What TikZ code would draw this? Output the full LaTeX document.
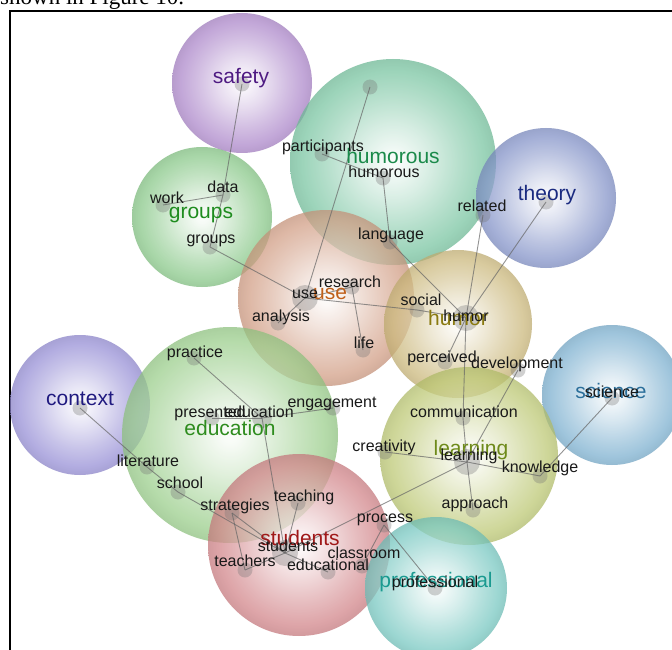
\documentclass[tikz,border=0pt]{standalone}
\usepackage{fontspec}
\setmainfont{Liberation Sans}
\newfontfamily\capfont{Liberation Serif}
\colorlet{ballcol}{gray}
\pgfdeclareradialshading[ballcol]{ballshade}{\pgfpoint{0bp}{0bp}}{color(0bp)=(ballcol!5!white); color(2bp)=(ballcol!9!white); color(9bp)=(ballcol!38!white); color(16bp)=(ballcol!70!white); color(22bp)=(ballcol!95!white); color(25bp)=(ballcol!94!black); color(50bp)=(ballcol!94!black)}
\definecolor{safetyC}{HTML}{A982C8}
\definecolor{humorousC}{HTML}{74C39E}
\definecolor{groupsC}{HTML}{84C684}
\definecolor{theoryC}{HTML}{7E8EC6}
\definecolor{useC}{HTML}{D09A80}
\definecolor{humorC}{HTML}{C9B576}
\definecolor{scienceC}{HTML}{77ADCE}
\definecolor{learningC}{HTML}{BAC66E}
\definecolor{contextC}{HTML}{928AD4}
\definecolor{educationC}{HTML}{96CC86}
\definecolor{studentsC}{HTML}{D07F84}
\definecolor{professionalC}{HTML}{72C6BF}
\definecolor{safetyT}{HTML}{4E1A82}
\definecolor{humorousT}{HTML}{1A8A4A}
\definecolor{groupsT}{HTML}{1E8C1E}
\definecolor{theoryT}{HTML}{1A2A80}
\definecolor{useT}{HTML}{C0601A}
\definecolor{humorT}{HTML}{8A7A10}
\definecolor{scienceT}{HTML}{2A6E9A}
\definecolor{learningT}{HTML}{6E8A1A}
\definecolor{contextT}{HTML}{201A80}
\definecolor{educationT}{HTML}{2E8C1E}
\definecolor{studentsT}{HTML}{A01818}
\definecolor{professionalT}{HTML}{1A9A90}
\tikzset{
  clusterball/.style={circle, inner sep=0pt, draw=none, shade, shading=ballshade, fill opacity=0.74},
  dot/.style={circle, inner sep=0pt, minimum size=15pt, fill=black!55, fill opacity=0.33, draw=none},
  hubdot/.style={dot, minimum size=26pt},
  link/.style={draw=black!60, line width=0.9pt, draw opacity=0.7},
  word/.style={anchor=base, yshift=-5pt, font=\fontsize{16}{16}\selectfont, text=black!90, inner sep=0pt},
  topic/.style={anchor=base, yshift=-7pt, font=\fontsize{21}{21}\selectfont, inner sep=0pt},
}
\newcommand\ClusterBall[4]{\begin{scope}\colorlet{ballcol}{#2}\node[clusterball, minimum size=#4] (#1) at (#3) {};\end{scope}}
\begin{document}
\begin{tikzpicture}[x=1pt,y=-1pt]
\useasboundingbox (0,0) rectangle (672,650);
\clip (0,0) rectangle (672,650);
\fill[white] (0,0) rectangle (672,650);
% caption fragment and frame
\node[anchor=base west, font=\capfont\fontsize{23}{23}\selectfont, inner sep=0pt] (caption) at (0,5) {shown in Figure 10.};
\draw[line width=2pt] (9.5,660) -- (9.5,11.5) -- (680,11.5);
% clusters
\ClusterBall{c-safety}{safetyC}{242,83}{140pt}
\ClusterBall{c-humorous}{humorousC}{393,162}{206pt}
\ClusterBall{c-groups}{groupsC}{202,217}{140pt}
\ClusterBall{c-theory}{theoryC}{546,198}{140pt}
\ClusterBall{c-use}{useC}{326,298}{176pt}
\ClusterBall{c-humor}{humorC}{458,324}{148pt}
\ClusterBall{c-science}{scienceC}{612,395}{140pt}
\ClusterBall{c-learning}{learningC}{469,456}{178pt}
\ClusterBall{c-context}{contextC}{80,405}{140pt}
\ClusterBall{c-education}{educationC}{230,435}{216pt}
\ClusterBall{c-students}{studentsC}{299,545}{182pt}
\ClusterBall{c-professional}{professionalC}{436,588}{142pt}
% keyword dots
\node[dot] (d-safety) at (242,84) {};
\node[dot] (d-humtop) at (370,87) {};
\node[dot] (d-participants) at (322,154) {};
\node[dot] (d-humorous) at (383,178) {};
\node[dot] (d-work) at (163,205) {};
\node[dot] (d-data) at (223,195) {};
\node[dot] (d-groups) at (210,247) {};
\node[dot] (d-theory) at (546,202) {};
\node[dot] (d-related) at (483,215) {};
\node[dot] (d-language) at (390,242) {};
\node[hubdot] (d-use) at (305,298) {};
\node[dot] (d-research) at (352,287) {};
\node[dot] (d-analysis) at (278,323) {};
\node[dot] (d-life) at (363,350) {};
\node[dot] (d-social) at (417,310) {};
\node[hubdot] (d-humor) at (466,318) {};
\node[dot] (d-perceived) at (445,362) {};
\node[dot] (d-development) at (518,370) {};
\node[dot] (d-communication) at (463,418) {};
\node[hubdot] (d-learning) at (467,462) {};
\node[dot] (d-creativity) at (385,452) {};
\node[dot] (d-knowledge) at (540,476) {};
\node[dot] (d-approach) at (473,510) {};
\node[dot] (d-science) at (612,398) {};
\node[dot] (d-context) at (80,408) {};
\node[dot] (d-practice) at (194,358) {};
\node[dot] (d-presented) at (212,418) {};
\node[dot, minimum size=20pt] (d-education) at (262,418) {};
\node[dot] (d-engagement) at (333,408) {};
\node[dot] (d-literature) at (147,467) {};
\node[dot] (d-school) at (178,492) {};
\node[dot] (d-strategies) at (232,513) {};
\node[dot] (d-teaching) at (298,503) {};
\node[hubdot] (d-students) at (285,553) {};
\node[dot] (d-teachers) at (245,570) {};
\node[dot] (d-educational) at (328,572) {};
\node[dot] (d-classroom) at (362,566) {};
\node[dot] (d-process) at (384,525) {};
\node[dot] (d-professional) at (435,588) {};
% links
\draw[link] (d-safety.center) -- (d-data.center);
\draw[link] (d-work.center) -- (d-data.center);
\draw[link] (d-data.center) -- (d-groups.center);
\draw[link] (d-groups.center) -- (d-use.center);
\draw[link] (d-humtop.center) -- (d-use.center);
\draw[link] (d-participants.center) -- (d-humorous.center);
\draw[link] (d-humorous.center) -- (d-language.center);
\draw[link] (d-language.center) -- (d-humor.center);
\draw[link] (d-related.center) -- (d-humor.center);
\draw[link] (d-theory.center) -- (d-humor.center);
\draw[link] (d-use.center) -- (d-research.center);
\draw[link] (d-use.center) -- (d-analysis.center);
\draw[link] (d-research.center) -- (d-life.center);
\draw[link] (d-use.center) -- (d-social.center);
\draw[link] (d-social.center) -- (d-humor.center);
\draw[link] (d-humor.center) -- (d-perceived.center);
\draw[link] (d-humor.center) -- (d-communication.center);
\draw[link] (d-communication.center) -- (d-learning.center);
\draw[link] (d-development.center) -- (d-learning.center);
\draw[link] (d-creativity.center) -- (d-learning.center);
\draw[link] (d-learning.center) -- (d-knowledge.center);
\draw[link] (d-knowledge.center) -- (d-science.center);
\draw[link] (d-learning.center) -- (d-approach.center);
\draw[link] (d-learning.center) -- (d-students.center);
\draw[link] (d-process.center) -- (d-classroom.center);
\draw[link] (d-process.center) -- (d-professional.center);
\draw[link] (d-context.center) -- (d-literature.center);
\draw[link] (d-literature.center) -- (d-school.center);
\draw[link] (d-school.center) -- (d-students.center);
\draw[link] (d-strategies.center) -- (d-teachers.center);
\draw[link] (d-strategies.center) -- (d-students.center);
\draw[link] (d-practice.center) -- (d-education.center);
\draw[link] (d-presented.center) -- (d-education.center);
\draw[link] (d-education.center) -- (d-engagement.center);
\draw[link] (d-education.center) -- (d-students.center);
\draw[link] (d-teaching.center) -- (d-students.center);
\draw[link] (d-students.center) -- (d-teachers.center);
\draw[link] (d-students.center) -- (d-educational.center);
% cluster titles
\node[topic, text=safetyT] (t-safety) at (241,77) {safety};
\node[topic, text=humorousT] (t-humorous) at (393,157) {humorous};
\node[topic, text=groupsT] (t-groups) at (201,211) {groups};
\node[topic, text=theoryT] (t-theory) at (547,193) {theory};
\node[topic, text=useT] (t-use) at (330,292) {use};
\node[topic, text=humorT] (t-humor) at (458,318) {humor};
\node[topic, text=scienceT] (t-science) at (611,391) {science};
\node[topic, text=learningT] (t-learning) at (471,448) {learning};
\node[topic, text=contextT] (t-context) at (80,398) {context};
\node[topic, text=educationT] (t-education) at (230,428) {education};
\node[topic, text=studentsT] (t-students) at (300,538) {students};
\node[topic, text=professionalT] (t-professional) at (436,580) {professional};
% keyword labels
\node[word] (w-participants) at (323,146) {participants};
\node[word] (w-humorous) at (384,172) {humorous};
\node[word] (w-work) at (167,198) {work};
\node[word] (w-data) at (223,188) {data};
\node[word] (w-groups) at (211,238) {groups};
\node[word] (w-related) at (482,206) {related};
\node[word] (w-language) at (391,234) {language};
\node[word] (w-research) at (350,282) {research};
\node[word] (w-use) at (305,293) {use};
\node[word] (w-analysis) at (281,316) {analysis};
\node[word] (w-life) at (364,343) {life};
\node[word] (w-social) at (421,300) {social};
\node[word] (w-humor) at (466,316) {humor};
\node[word] (w-perceived) at (442,357) {perceived};
\node[word] (w-development) at (517,363) {development};
\node[word] (w-communication) at (464,412) {communication};
\node[word] (w-creativity) at (384,446) {creativity};
\node[word] (w-learning) at (469,455) {learning};
\node[word] (w-knowledge) at (540,467) {knowledge};
\node[word] (w-approach) at (475,503) {approach};
\node[word] (w-science) at (612,392) {science};
\node[word] (w-practice) at (195,352) {practice};
\node[word] (w-presented) at (210,412) {presented};
\node[word] (w-education) at (259,412) {education};
\node[word] (w-engagement) at (332,402) {engagement};
\node[word] (w-literature) at (148,461) {literature};
\node[word] (w-school) at (180,483) {school};
\node[word] (w-strategies) at (235,505) {strategies};
\node[word] (w-teaching) at (304,496) {teaching};
\node[word] (w-process) at (385,517) {process};
\node[word] (w-students) at (288,546) {students};
\node[word] (w-teachers) at (245,561) {teachers};
\node[word] (w-educational) at (328,565) {educational};
\node[word] (w-classroom) at (364,553) {classroom};
\node[word] (w-professional) at (435,582) {professional};
\end{tikzpicture}
\end{document}
